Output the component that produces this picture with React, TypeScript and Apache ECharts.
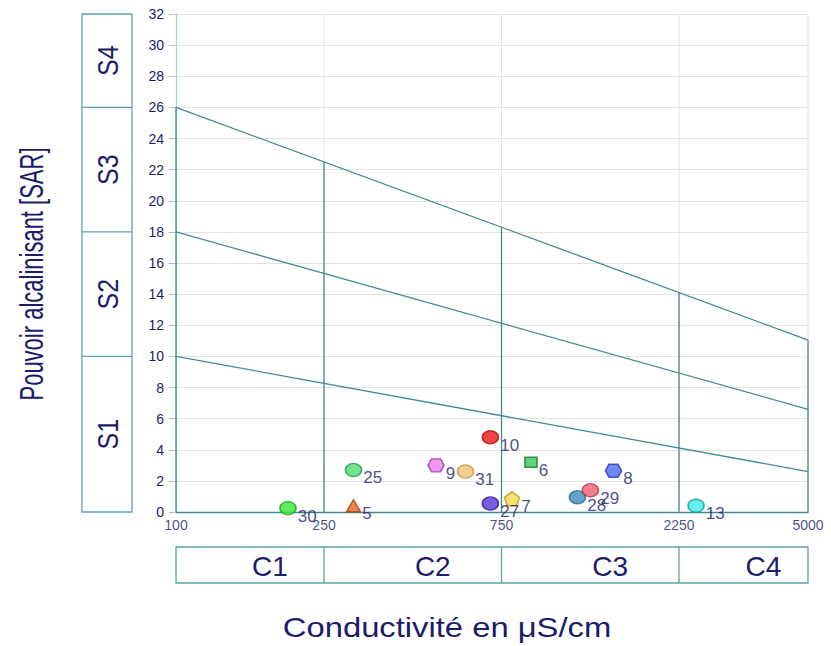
import React, { useEffect, useRef } from 'react';
import * as echarts from 'echarts';

// Axis ticks / classes
const conductivityTicks = [100, 250, 750, 2250, 5000];
const conductivityClasses = ['C1', 'C2', 'C3', 'C4'];
const sarEdges = [0, 10, 18, 26, 32];
const sarClasses = ['S1', 'S2', 'S3', 'S4'];

// Class boundary lines (SAR at 100 and at 5000 µS/cm)
const sarBoundaryStart = [10, 18, 26];
const sarBoundaryEnd = [2.6, 6.6, 11.05];
// Top of the vertical class separators at each conductivity tick
const separatorTop = [26, 22.5, 18.3, 14.1, 11.05];

// Samples
const sampleIds = ['30', '5', '25', '9', '31', '10', '27', '7', '6', '28', '29', '8', '13'];
const conductivity = [200, 300, 300, 500, 600, 700, 700, 800, 900, 1200, 1300, 1500, 2500];
const sar = [0.25, 0.4, 2.7, 3.0, 2.6, 4.8, 0.55, 0.85, 3.2, 0.95, 1.4, 2.65, 0.4];
const sampleShape = ['ellipse', 'triangle', 'ellipse', 'hexagon', 'ellipse', 'ellipse', 'ellipse', 'pentagon', 'square', 'ellipse', 'ellipse', 'hexagon', 'ellipse'];
const sampleFill = ['#35e835', '#ee6a25', '#4ade70', '#f07cf0', '#f0c477', '#ee1515', '#5a36d4', '#f4d84a', '#3acb55', '#3a8fbf', '#f2606e', '#4a6cf0', '#3cecec'];
const sampleBorder = ['#1fa01f', '#a84412', '#249a48', '#9a38b0', '#c99440', '#b00808', '#2c1890', '#b8981c', '#137a30', '#206c98', '#c23048', '#2438b0', '#129c9c'];

const NAVY = '#1c1c6a';
const TEAL = '#3f8d8d';
const FONT = "'Liberation Sans', Arial, sans-serif";

const SHAPES: Record<string, { symbol: string; size: number[] }> = {
  ellipse: { symbol: 'circle', size: [16, 13] },
  triangle: { symbol: 'triangle', size: [14, 12] },
  hexagon: { symbol: 'path://M0,5 L3.5,0 L12.5,0 L16,5 L12.5,10 L3.5,10 Z', size: [16, 13] },
  pentagon: { symbol: 'path://M8,0 L16,6 L13,15 L3,15 L0,6 Z', size: [15, 14] },
  square: { symbol: 'rect', size: [12, 10] },
};

export default function App() {
  const ref = useRef<HTMLDivElement>(null);
  useEffect(() => {
    if (!ref.current) return;
    const chart = echarts.init(ref.current, null, { renderer: 'svg' });

    const lineSeries = (name: string, data: number[][], color: string, width: number, z: number) => ({
      name,
      type: 'line',
      data,
      symbol: 'none',
      silent: true,
      z,
      lineStyle: { color, width },
      clip: false,
    });

    const series: any[] = [];
    // light grey vertical grid lines
    conductivityTicks.slice(1).forEach((c, i) => {
      series.push(lineSeries('grid' + i, [[c, 0], [c, 32]], '#e3e3e3', 1, 1));
    });
    // teal vertical class separators
    conductivityTicks.forEach((c, i) => {
      series.push(lineSeries('sep' + i, [[c, 0], [c, separatorTop[i]]], TEAL, 1.3, 3));
    });
    // SAR class boundary lines
    sarBoundaryStart.forEach((s, i) => {
      series.push(lineSeries('bnd' + i, [[conductivityTicks[0], s], [conductivityTicks[4], sarBoundaryEnd[i]]], TEAL, 1.3, 3));
    });
    // x tick labels
    series.push({
      name: 'xlabels',
      type: 'scatter',
      silent: true,
      clip: false,
      symbolSize: 1,
      itemStyle: { color: 'rgba(0,0,0,0)' },
      data: conductivityTicks.map((c) => ({ value: [c, 0], name: String(c) })),
      label: {
        show: true,
        position: 'bottom',
        distance: 5,
        formatter: '{b}',
        color: NAVY,
        fontSize: 14,
        fontFamily: FONT,
      },
      z: 4,
    });
    // samples
    series.push({
      name: 'samples',
      type: 'scatter',
      clip: false,
      z: 10,
      data: sampleIds.map((id, i) => ({
        name: id,
        value: [conductivity[i], sar[i]],
        symbol: SHAPES[sampleShape[i]].symbol,
        symbolSize: SHAPES[sampleShape[i]].size,
        itemStyle: { color: sampleFill[i], borderColor: sampleBorder[i], borderWidth: 1.5 },
      })),
      label: {
        show: true,
        position: 'right',
        distance: 1,
        offset: [0, 8],
        formatter: '{b}',
        color: '#20206e',
        fontSize: 17,
        fontFamily: FONT,
      },
    });

    chart.setOption({
      animation: false,
      backgroundColor: '#ffffff',
      grid: { left: 176, right: 23, top: 14, bottom: 134 },
      xAxis: {
        type: 'log',
        logBase: 10,
        min: 100,
        max: 5000,
        axisLine: { show: true, lineStyle: { color: TEAL, width: 1.3 } },
        axisTick: { show: false },
        axisLabel: { show: false },
        splitLine: { show: false },
        minorSplitLine: { show: false },
      },
      yAxis: {
        type: 'value',
        min: 0,
        max: 32,
        interval: 2,
        axisLine: { show: true, lineStyle: { color: '#a6d6de', width: 1.2 } },
        axisTick: { show: true, length: 7, lineStyle: { color: '#bdbdbd' } },
        axisLabel: { color: NAVY, fontSize: 14, fontFamily: FONT, margin: 12 },
        splitLine: { show: true, lineStyle: { color: '#e3e3e3', width: 1 } },
      },
      series,
    });

    const px = (x: number, y: number) => chart.convertToPixel({ gridIndex: 0 }, [x, y]) as number[];
    const graphic: any[] = [];
    const boxStroke = '#5aa5a5';

    // Left SAR class box
    const leftX = 82;
    const boxW = 50;
    const yTop = px(100, sarEdges[4])[1];
    const yBot = px(100, sarEdges[0])[1];
    graphic.push({ type: 'rect', shape: { x: leftX, y: yTop, width: boxW, height: yBot - yTop }, style: { fill: 'none', stroke: boxStroke, lineWidth: 1.3 } });
    sarEdges.slice(1, 4).forEach((e) => {
      const y = px(100, e)[1];
      graphic.push({ type: 'line', shape: { x1: leftX, y1: y, x2: leftX + boxW, y2: y }, style: { stroke: boxStroke, lineWidth: 1.3 } });
    });
    sarClasses.forEach((t, i) => {
      const y1 = px(100, sarEdges[i])[1];
      const y2 = px(100, sarEdges[i + 1])[1];
      graphic.push({
        type: 'text',
        x: leftX + boxW / 2 + 1,
        y: (y1 + y2) / 2,
        rotation: Math.PI / 2,
        scaleY: 1.15,
        style: { text: t, fill: NAVY, fontSize: 25, fontFamily: FONT, align: 'center', verticalAlign: 'middle' },
      });
    });

    // Bottom conductivity class box
    const bTop = 547;
    const bH = 36;
    const xL = px(conductivityTicks[0], 0)[0];
    const xR = px(conductivityTicks[4], 0)[0];
    graphic.push({ type: 'rect', shape: { x: xL, y: bTop, width: xR - xL, height: bH }, style: { fill: 'none', stroke: boxStroke, lineWidth: 1.3 } });
    conductivityTicks.slice(1, 4).forEach((c) => {
      const x = px(c, 0)[0];
      graphic.push({ type: 'line', shape: { x1: x, y1: bTop, x2: x, y2: bTop + bH }, style: { stroke: boxStroke, lineWidth: 1.3 } });
    });
    conductivityClasses.forEach((t, i) => {
      const x1 = px(conductivityTicks[i], 0)[0];
      const x2 = px(conductivityTicks[i + 1], 0)[0];
      graphic.push({
        type: 'text',
        x: (x1 + x2) / 2 + 20,
        y: bTop + bH / 2 + 1,
        style: { text: t, fill: NAVY, fontSize: 28, fontFamily: FONT, align: 'center', verticalAlign: 'middle' },
      });
    });

    // Axis titles
    graphic.push({
      type: 'text',
      x: 31,
      y: 274,
      rotation: Math.PI / 2,
      scaleY: 1.55,
      style: { text: 'Pouvoir alcalinisant [SAR]', fill: NAVY, fontSize: 22, fontFamily: FONT, align: 'center', verticalAlign: 'middle' },
    });
    graphic.push({
      type: 'text',
      x: 447,
      y: 627,
      scaleX: 1.17,
      style: { text: 'Conductivité en μS/cm', fill: NAVY, fontSize: 28, fontFamily: FONT, align: 'center', verticalAlign: 'middle' },
    });

    chart.setOption({ graphic });

    return () => chart.dispose();
  }, []);
  return <div ref={ref} style={{ position: 'fixed', left: 0, top: 0, width: 831, height: 646 }} />;
}
